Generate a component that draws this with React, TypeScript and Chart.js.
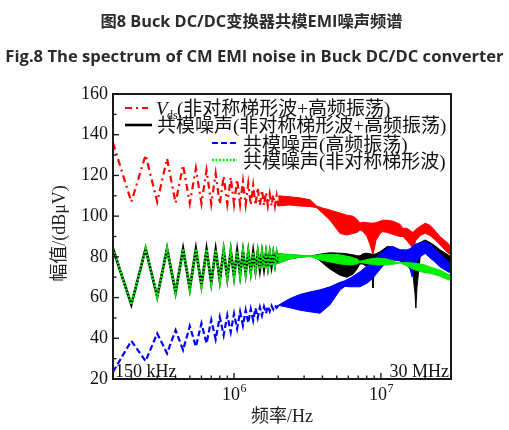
import React, { useEffect, useRef } from 'react';
import Chart from 'chart.js/auto';
import type { Plugin } from 'chart.js';

// Sparse part of the spectra: one point per peak / valley (kHz)
const traceKHz = [
    150, 200, 250, 300, 350, 400, 450, 500, 550, 600, 650, 700, 750, 800, 850, 900, 950, 1000, 1050,
    1100, 1150, 1200, 1250, 1300, 1350, 1400, 1450, 1500, 1550, 1600, 1650, 1700, 1750, 1800, 1850,
    1900, 1950, 2000
];
// Vds (red)
const vdsTrace = [
    136, 107, 130, 107, 128.3, 106.5, 125, 106.3, 123.5, 106.3, 122.6, 106, 121, 106, 119.6, 106, 119,
    105.8, 118, 105.8, 117, 105.6, 116, 105.5, 115, 105.4, 114, 105.3, 112.8, 105.2, 111.7, 105.1,
    110.9, 105, 110.4, 105, 110, 105
];
// CM noise, black and green coincide in this range
const cmTrace = [
    84, 56.5, 84, 60.4, 84, 62.5, 83.9, 64.3, 83.8, 66, 83.6, 67.3, 83.4, 68.5, 83.2, 69.5, 83, 70.4,
    82.8, 71.2, 82.6, 72, 82.4, 72.7, 82.3, 73.4, 82.1, 74, 82, 74.5, 81.8, 75, 81.7, 75.6, 81.6, 76.2,
    81.5, 76.8
];
// CM noise, ringing only (blue)
const hfTrace = [
    23.5, 38.7, 28.8, 42.4, 32.6, 44, 34.2, 46, 35.9, 47.3, 37.5, 49, 39.5, 50.4, 41.5, 51.3, 43, 52.1,
    44.7, 53, 46.3, 53.8, 47.5, 54.3, 48.8, 54.8, 50, 55.2, 51.2, 55.5, 52.3, 55.8, 53.3, 56, 54.2,
    56.1, 55, 56.2
];

// Dense part: upper / lower envelope of the band (MHz)
const vdsBandMHz = [2.0, 2.4, 2.8, 3.3, 3.65, 4.0, 4.5, 5.27, 5.87, 6.45, 6.87, 7.2, 7.55, 8.04, 8.43, 8.83, 9.26, 9.86, 10.3, 11.0, 12.1, 13.5, 14.1, 15.0, 15.8, 16.5, 17.3, 18.5, 20.0, 21.6, 23.3, 25.2, 28.6, 30];
const vdsBandHi = [110, 109.5, 109, 108, 105, 104, 103, 101.5, 100.5, 100, 98.5, 96.6, 97, 96.8, 96.6, 96.6, 96.8, 97.5, 98, 98, 97.5, 96, 94, 94, 93, 92, 93.5, 95, 96.5, 95.5, 93, 90, 86.7, 85];
const vdsBandLo = [105, 105.5, 105, 104.7, 104.2, 101.5, 98, 91.5, 90.7, 91.5, 92, 93.2, 92.5, 90, 86, 81, 88, 91.5, 92.4, 92, 91, 90, 90, 88, 86, 84.2, 88, 90.5, 91.6, 90.5, 88.5, 86, 81.8, 81.2];

const cmBandMHz = [2.0, 2.4, 2.8, 3.3, 3.65, 4.0, 4.5, 5.27, 5.87, 6.45, 6.87, 7.2, 7.55, 8.04, 8.43, 8.7, 8.83, 8.95, 9.26, 9.86, 10.3, 11.0, 12.1, 13.5, 14.1, 15.0, 15.8, 16.5, 17.06, 17.3, 17.6, 18.5, 20.0, 21.6, 23.3, 25.2, 28.6, 30];
const cmBandHi = [81.5, 81, 80.7, 80.3, 81, 81.5, 82, 81.8, 81.5, 81, 80.5, 80.5, 81.5, 81.8, 81.5, 81.3, 81.2, 81.2, 81.5, 82.5, 83.5, 85, 85, 83, 82, 81.5, 82.5, 84, 85, 85.5, 86, 87, 88.3, 87, 85.5, 83.5, 81, 80];
const cmBandLo = [76.8, 79, 79.8, 80.3, 79.5, 77, 74, 71, 70, 71.5, 74, 76.5, 76.5, 75, 74, 70, 64.7, 72, 74, 76, 78.5, 80.5, 80.5, 78, 77, 76, 74, 72, 62, 54.8, 65, 80, 84.5, 83, 81, 79.5, 77, 76];

const hfBandMHz = [2.0, 2.4, 2.8, 3.3, 3.85, 4.5, 5.27, 5.69, 6.16, 7.2, 8.04, 8.83, 9.4, 10.3, 11.5, 12.1, 13.5, 15.0, 15.8, 16.3, 16.8, 17.6, 18.5, 20.0, 21.6, 23.3, 25.2, 28.6, 30];
const hfBandHi = [56.2, 59.5, 61.5, 62.8, 63.8, 65.3, 67.5, 68.3, 69.5, 72.7, 75.5, 78.4, 80, 82.5, 84.8, 85, 83.5, 83.4, 84, 85, 86, 86.5, 87, 87.4, 86, 84, 81.7, 77.6, 76.5];
const hfBandLo = [56.2, 55, 53.8, 53, 52.3, 56.5, 63.7, 65.5, 65.3, 65.3, 67, 69.6, 72, 75.5, 78.4, 78.4, 78, 77.6, 74, 70.2, 74, 78, 80, 81.7, 79.5, 77.5, 75.1, 72.7, 72];

const trapBandMHz = [2.0, 2.4, 2.8, 3.3, 3.85, 4.5, 5.27, 6.16, 6.87, 7.2, 7.55, 8.43, 9.4, 11.0, 12.5, 13.5, 14.6, 16.5, 18.5, 20.0, 21.6, 25.2, 28.6, 30];
const trapBandHi = [81.5, 81.2, 80.8, 80.4, 81, 81.3, 81, 80, 79, 77.8, 78.2, 79, 79.4, 79, 77.5, 77, 77.2, 77, 76.5, 76, 75, 73.5, 71.5, 71];
const trapBandLo = [76.8, 79, 79.8, 80.2, 78.5, 77.5, 76.5, 76, 76.5, 77.4, 77, 76.5, 76, 76, 76.5, 77, 76, 74, 72.8, 72.2, 72, 70.5, 68.8, 68.5];

// Axis ticks
const yMajorTicks = [20, 40, 60, 80, 100, 120, 140, 160];
const yMinorTicks = [30, 50, 70, 90, 110, 130, 150];
const xMajorTicks = [1e6, 1e7];
const xExponents = ['6', '7'];
const xMinorTicks = [2e5, 3e5, 4e5, 5e5, 6e5, 7e5, 8e5, 9e5, 2e6, 3e6, 4e6, 5e6, 6e6, 7e6, 8e6, 9e6, 2e7, 3e7];

// Legend texts
const vdsLabel = '(非对称梯形波+高频振荡)';
const cmLabel = '共模噪声(非对称梯形波+高频振荡)';
const hfLabel = '共模噪声(高频振荡)';
const trapLabel = '共模噪声(非对称梯形波)';

const RED = '#ff0000';
const BLACK = '#000000';
const BLUE = '#0000ff';
const GREEN = '#00f000';

const SERIF = '"Liberation Serif", "Noto Sans CJK SC", serif';

const pts = (f: number[], v: number[], k: number) => f.map((x, i) => ({ x: x * k, y: v[i] }));

// Frame, inward ticks, tick labels, axis titles and legend
const decorPlugin: Plugin<'line'> = {
    id: 'decor',
    afterDatasetsDraw(chart: any) {
        const { ctx, chartArea: a, scales } = chart;
        const xs = scales.x;
        const ys = scales.y;
        ctx.save();

        ctx.strokeStyle = '#1a1a1a';
        ctx.lineWidth = 2;
        ctx.strokeRect(a.left, a.top, a.right - a.left, a.bottom - a.top);

        ctx.lineWidth = 1.4;
        const tick = (px: number, py: number, dx: number, dy: number) => {
            ctx.beginPath();
            ctx.moveTo(px, py);
            ctx.lineTo(px + dx, py + dy);
            ctx.stroke();
        };
        yMajorTicks.forEach(v => tick(a.left, ys.getPixelForValue(v), 6, 0));
        yMinorTicks.forEach(v => tick(a.left, ys.getPixelForValue(v), 3.5, 0));
        xMajorTicks.forEach(v => tick(xs.getPixelForValue(v), a.bottom, 0, -6));
        xMinorTicks.forEach(v => tick(xs.getPixelForValue(v), a.bottom, 0, -3.5));

        // 10^n labels
        ctx.fillStyle = '#111';
        ctx.textBaseline = 'alphabetic';
        ctx.textAlign = 'left';
        xMajorTicks.forEach((v, i) => {
            const px = xs.getPixelForValue(v);
            ctx.font = `18px ${SERIF}`;
            const w1 = ctx.measureText('10').width;
            ctx.font = `12px ${SERIF}`;
            const w2 = ctx.measureText(xExponents[i]).width;
            const x0 = px - (w1 + w2) / 2;
            ctx.font = `18px ${SERIF}`;
            ctx.fillText('10', x0, 400);
            ctx.font = `12px ${SERIF}`;
            ctx.fillText(xExponents[i], x0 + w1 + 0.5, 392);
        });

        // range marks inside the plot
        ctx.font = `18px ${SERIF}`;
        ctx.fillText('150 kHz', a.left + 2, a.bottom - 2);
        ctx.textAlign = 'right';
        ctx.fillText('30 MHz', a.right - 2, a.bottom - 2);

        // axis titles
        ctx.textAlign = 'center';
        ctx.textBaseline = 'middle';
        ctx.fillStyle = '#222';
        ctx.fillText('频率/Hz', (a.left + a.right) / 2, 417);
        ctx.save();
        ctx.translate(60, (a.top + a.bottom) / 2 - 3);
        ctx.rotate(-Math.PI / 2);
        ctx.fillText('幅值/(dBμV)', 0, 0);
        ctx.restore();

        // legend
        const sample = (x1: number, x2: number, yy: number, color: string, dash: number[], w: number) => {
            ctx.strokeStyle = color;
            ctx.lineWidth = w;
            ctx.setLineDash(dash);
            ctx.beginPath();
            ctx.moveTo(x1, yy);
            ctx.lineTo(x2, yy);
            ctx.stroke();
            ctx.setLineDash([]);
        };
        sample(125, 148, 108, RED, [7, 4, 2, 4], 2.2);
        sample(125, 152, 125, BLACK, [], 2.6);
        sample(212, 237, 143, BLUE, [6, 3], 2.2);
        sample(212, 237, 160, GREEN, [2, 1.5], 2.5);

        ctx.fillStyle = '#111';
        ctx.textAlign = 'left';
        ctx.textBaseline = 'alphabetic';
        ctx.font = `italic 19px ${SERIF}`;
        ctx.fillText('V', 156, 115);
        ctx.font = `12px ${SERIF}`;
        ctx.fillText('ds', 167, 119);
        ctx.font = `19px ${SERIF}`;
        ctx.fillText(vdsLabel, 177, 115);
        ctx.fillText(cmLabel, 157, 132);
        ctx.fillText(hfLabel, 243, 151);
        ctx.fillText(trapLabel, 243, 168);

        ctx.restore();
    }
};

const line = (data: any[], color: string, width: number, dash: number[] = [], fill: any = false) => ({
    data,
    borderColor: color,
    backgroundColor: color,
    borderWidth: width,
    borderDash: dash,
    pointRadius: 0,
    tension: 0,
    fill
});

const App: React.FC = () => {
    const canvasRef = useRef<HTMLCanvasElement | null>(null);

    useEffect(() => {
        const ctx = canvasRef.current?.getContext('2d');
        if (!ctx) return;

        // index 0 is drawn last, so green ends up on top, red at the bottom
        const datasets = [
            line(pts(traceKHz, cmTrace, 1e3), GREEN, 2.5, [2, 1.5]),
            line(pts(trapBandMHz, trapBandHi, 1e6), GREEN, 1),
            line(pts(trapBandMHz, trapBandLo, 1e6), GREEN, 1, [], '-1'),
            line(pts(traceKHz, hfTrace, 1e3), BLUE, 2.2, [6, 3]),
            line(pts(hfBandMHz, hfBandHi, 1e6), BLUE, 1),
            line(pts(hfBandMHz, hfBandLo, 1e6), BLUE, 1, [], '-1'),
            line(pts(traceKHz, cmTrace, 1e3), BLACK, 2.6),
            line(pts(cmBandMHz, cmBandHi, 1e6), BLACK, 1),
            line(pts(cmBandMHz, cmBandLo, 1e6), BLACK, 1, [], '-1'),
            line(pts(traceKHz, vdsTrace, 1e3), RED, 2.2, [7, 4, 2, 4]),
            line(pts(vdsBandMHz, vdsBandHi, 1e6), RED, 1),
            line(pts(vdsBandMHz, vdsBandLo, 1e6), RED, 1, [], '-1')
        ];

        const chart = new Chart(ctx, {
            type: 'line',
            data: { datasets },
            options: {
                animation: false,
                responsive: true,
                maintainAspectRatio: false,
                layout: { padding: { top: 94, right: 58, left: 0, bottom: 0 } },
                plugins: {
                    legend: { display: false },
                    tooltip: { enabled: false }
                },
                scales: {
                    x: {
                        type: 'logarithmic',
                        min: 150000,
                        max: 30000000,
                        afterFit: (s: any) => { s.height = 51; },
                        grid: { display: false, drawTicks: false },
                        border: { display: false },
                        ticks: { display: false }
                    },
                    y: {
                        min: 20,
                        max: 160,
                        afterFit: (s: any) => { s.width = 113; },
                        grid: { display: false, drawTicks: false },
                        border: { display: false },
                        ticks: {
                            stepSize: 20,
                            padding: 5,
                            color: '#111',
                            font: { family: SERIF, size: 18 }
                        }
                    }
                }
            },
            plugins: [decorPlugin]
        });

        return () => chart.destroy();
    }, []);

    const titleStyle: React.CSSProperties = {
        position: 'absolute',
        left: 0,
        width: 509,
        textAlign: 'center',
        fontFamily: '"Open Sans", "Noto Sans CJK SC", sans-serif',
        fontWeight: 'bold',
        color: '#2b2b2b',
        whiteSpace: 'nowrap'
    };

    return (
        <div style={{ position: 'fixed', left: 0, top: 0, width: 509, height: 430, background: '#fff' }}>
            <div style={{ position: 'absolute', left: 0, top: 0, width: 509, height: 430 }}>
                <canvas ref={canvasRef} />
            </div>
            <div style={{ ...titleStyle, top: 8, left: -3, fontSize: 16.3 }}>图8 Buck DC/DC变换器共模EMI噪声频谱</div>
            <div style={{ ...titleStyle, top: 44, fontSize: 16.6 }}>Fig.8 The spectrum of CM EMI noise in Buck DC/DC converter</div>
        </div>
    );
};

export default App;
